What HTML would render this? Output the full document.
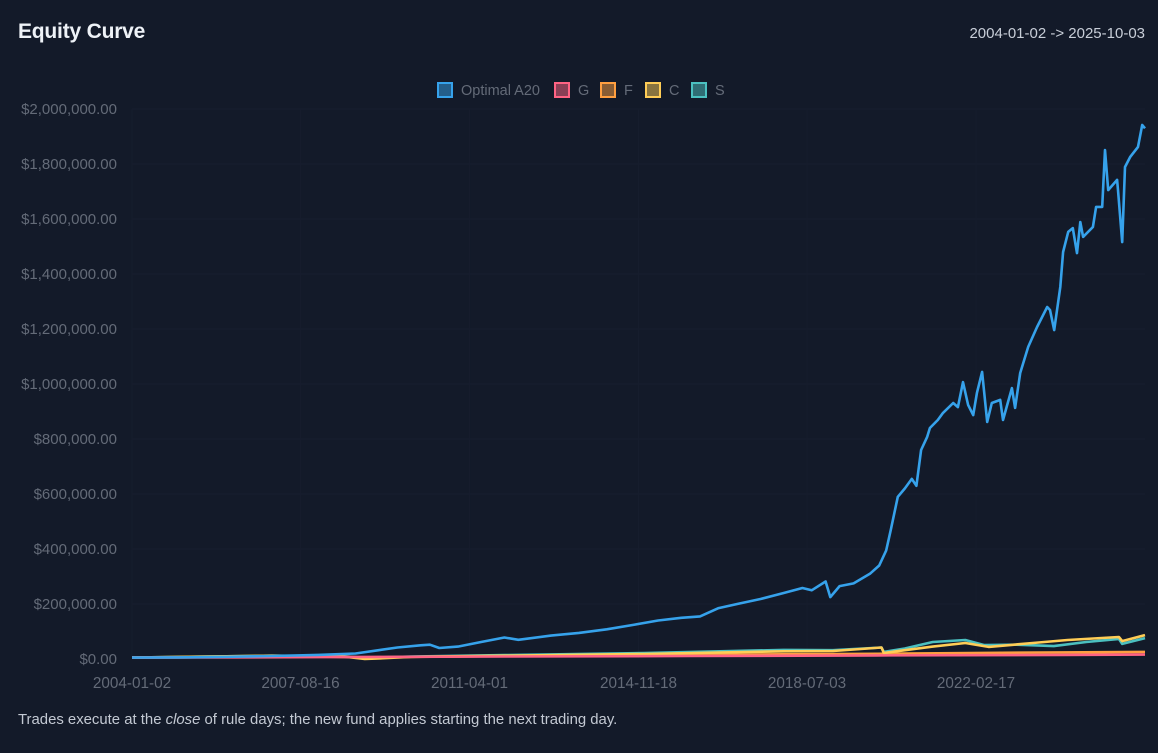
<!DOCTYPE html>
<html><head><meta charset="utf-8">
<style>
html,body{margin:0;padding:0;background:#131a29;width:1158px;height:753px;overflow:hidden;font-family:"Liberation Sans",sans-serif;}
#title{position:absolute;left:18px;top:20px;font-size:21px;font-weight:bold;color:#eef2f7;letter-spacing:-0.2px}
#range{position:absolute;right:13px;top:25px;font-size:15px;color:#c8ced8}
#note{position:absolute;left:18px;top:712px;font-size:14.9px;color:#c3c9d3}
svg{position:absolute;left:0;top:0}
</style></head><body>
<div id="title">Equity Curve</div>
<div id="range">2004-01-02 -&gt; 2025-10-03</div>
<div id="note">Trades execute at the <i>close</i> of rule days; the new fund applies starting the next trading day.</div>
<svg id="chart" width="1158" height="753"></svg>
<script>
const xLabels=["2004-01-02","2007-08-16","2011-04-01","2014-11-18","2018-07-03","2022-02-17"];
const xLabelYears=[2004.0,2007.62,2011.25,2014.88,2018.5,2022.13];
const yTicks=[0,200000,400000,600000,800000,1000000,1200000,1400000,1600000,1800000,2000000];
const seriesNames=["Optimal A20","G","F","C","S"];
const seriesColors=["#36a2eb","#ff6384","#ff9f40","#ffcd56","#4bc0c0"];
const optYears=[2004,2005,2006,2007,2008,2008.8,2009.3,2009.7,2010.2,2010.4,2010.6,2011,2011.5,2012,2012.3,2013,2013.6,2014.2,2014.8,2015.3,2015.8,2016.2,2016.6,2017,2017.5,2018,2018.4,2018.6,2018.9,2019.0,2019.2,2019.5,2019.85,2020.05,2020.2,2020.3,2020.45,2020.6,2020.75,2020.85,2020.95,2021.08,2021.14,2021.31,2021.42,2021.64,2021.74,2021.85,2021.96,2022.07,2022.15,2022.26,2022.37,2022.47,2022.65,2022.71,2022.9,2022.97,2023.08,2023.25,2023.44,2023.66,2023.72,2023.81,2023.94,2024.0,2024.11,2024.21,2024.3,2024.37,2024.43,2024.64,2024.71,2024.84,2024.9,2024.97,2025.16,2025.18,2025.27,2025.33,2025.44,2025.61,2025.7,2025.76];
const optValues=[5,6,8,11,15,20,32,42,50,52,40,45,62,78,70,85,95,108,125,140,150,155,185,200,218,240,258,250,282,225,265,275,310,340,395,470,590,620,655,630,760,807,840,869,895,931,916,1007,924,887,967,1044,862,931,942,869,985,913,1040,1135,1207,1280,1269,1196,1353,1480,1553,1567,1476,1589,1535,1571,1644,1644,1851,1705,1742,1705,1516,1789,1825,1862,1942,1930];
const gYears=[2004,2008,2012,2016,2020,2024,2025.76];
const gValues=[5,7,9,11,13,15,16];
const fYears=[2004,2008,2009,2012,2016,2020,2022,2024,2025.76];
const fValues=[5,9,6,11,15,19,22,24,26];
const cYears=[2004,2007,2008.5,2009.0,2009.3,2010,2012,2015,2018,2019.06,2020.1,2020.15,2020.5,2021.2,2021.9,2022.4,2023.35,2024.1,2025.2,2025.27,2025.76];
const cValues=[5,12,10,0,2,8,12,18,28,29,42,22,30,45,58,44,58,69,80,65,87];
const sYears=[2004,2007,2008.5,2009.0,2010,2012,2015,2018,2019.06,2020.1,2020.15,2020.6,2021.2,2021.9,2022.3,2023.0,2023.8,2024.5,2025.2,2025.27,2025.76];
const sValues=[5,12,11,4,9,14,22,33,32,42,26,38,62,69,51,52,47,62,73,55,76];

const NS="http://www.w3.org/2000/svg";
const svg=document.getElementById('chart');
const X0=132,X1=1145,Y0=659,Y1=109,YR0=2004.0,YR1=2025.76;
function xs(yr){return X0+(yr-YR0)/(YR1-YR0)*(X1-X0);}
function ys(v){return Y0-v/2000000*(Y0-Y1);}
function mk(t,a){const e=document.createElementNS(NS,t);for(const k in a)e.setAttribute(k,a[k]);svg.appendChild(e);return e;}
yTicks.forEach(v=>{
  const g=mk('line',{x1:X0,x2:X1,y1:ys(v),y2:ys(v),stroke:'#171e2e','stroke-width':1});
  
  
  const t=mk('text',{x:117,y:ys(v)+5,'text-anchor':'end','font-size':15,fill:'#646b78','font-family':'Liberation Sans, sans-serif'});
  t.textContent='$'+v.toLocaleString('en-US',{minimumFractionDigits:2});
  
  
});
xLabels.forEach((l,i)=>{
  const g=mk('line',{x1:xs(xLabelYears[i]),x2:xs(xLabelYears[i]),y1:Y1,y2:Y0,stroke:'#161d2d','stroke-width':1});
  
  
  const t=mk('text',{x:xs(xLabelYears[i]),y:688,'text-anchor':'middle','font-size':15.3,fill:'#646b78','font-family':'Liberation Sans, sans-serif'});
  t.textContent=l;
  
  
});
function line(yrs,vals,color,name){
  const d=yrs.map((y,i)=>(i?'L':'M')+xs(y).toFixed(1)+','+ys(vals[i]*1000).toFixed(1)).join(' ');
  const p=mk('path',{d:d,fill:'none',stroke:color,'stroke-width':2.6,'stroke-linejoin':'round'});
  
  
}
line(sYears,sValues,seriesColors[4],'series-s-line');
line(fYears,fValues,seriesColors[2],'series-f-line');
line(cYears,cValues,seriesColors[3],'series-c-line');
line(gYears,gValues,seriesColors[1],'series-g-line');
line(optYears,optValues,seriesColors[0],'series-optimal-a20-line');
const legendX=[437,554,600,645,691];
seriesNames.forEach((n,i)=>{
  const r=mk('rect',{x:legendX[i]+1,y:83,width:14,height:14,fill:seriesColors[i],'fill-opacity':0.5,stroke:seriesColors[i],'stroke-width':2});
  
  
  const t=mk('text',{x:legendX[i]+24,y:95,'font-size':14.5,fill:'#646b78','font-family':'Liberation Sans, sans-serif'});
  t.textContent=n;
  
  
});
</script>
</body></html>
